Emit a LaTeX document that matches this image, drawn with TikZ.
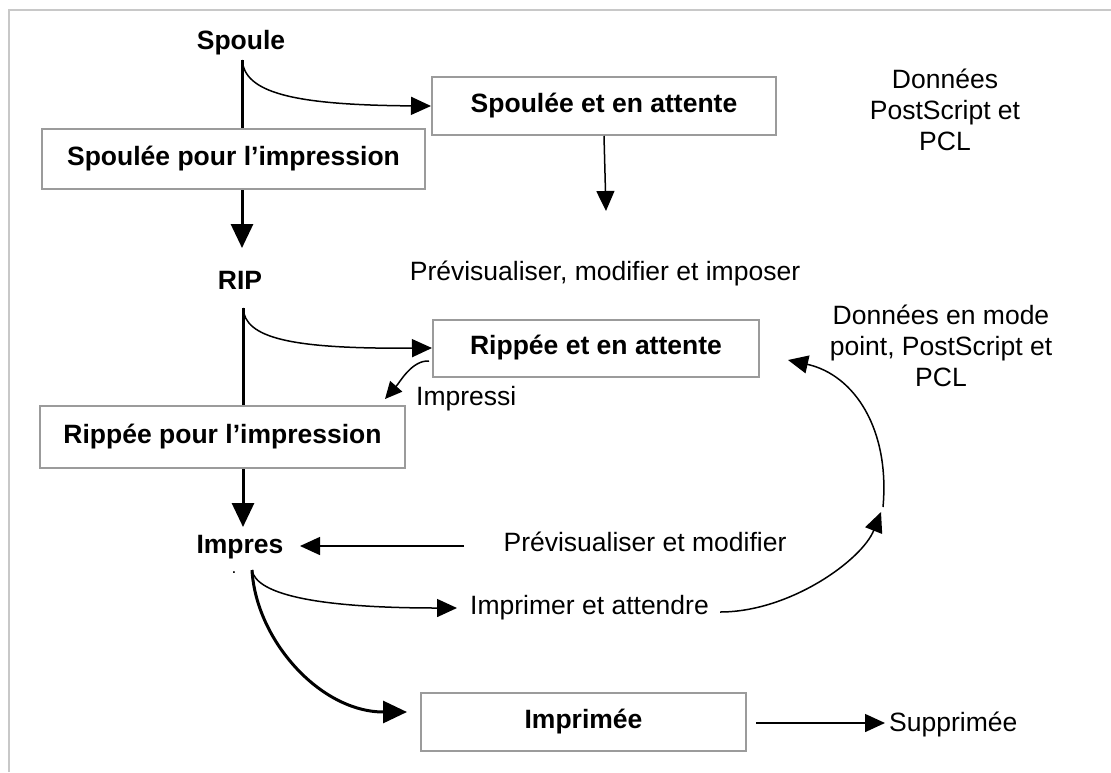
\documentclass[tikz,border=0pt]{standalone}
\usepackage{fontspec}
\setmainfont{Liberation Sans}
\usetikzlibrary{arrows.meta}
\definecolor{boxgray}{RGB}{155,155,155}
\definecolor{framegray}{RGB}{200,200,200}
\tikzset{
  box/.style={draw=boxgray, line width=2pt, inner sep=0pt, font=\bfseries\fontsize{26.5}{31}\selectfont},
  lbl/.style={inner sep=0pt, align=center, font=\fontsize{26.5}{31}\selectfont},
  blbl/.style={inner sep=0pt, font=\bfseries\fontsize{26.5}{31}\selectfont},
  thinarrow/.style={line width=1.5pt, -{Triangle[length=20pt,width=18pt]}},
  smallarrow/.style={line width=1.5pt, -{Triangle[length=17pt,width=16pt]}},
  thickline/.style={line width=3pt},
  thickarrow/.style={line width=3pt, -{Triangle[length=24pt,width=22pt]}},
}
\begin{document}
\begin{tikzpicture}[x=1pt,y=-1pt]
\useasboundingbox (0,0) rectangle (1111,772);
\draw[framegray, line width=1.5pt] (9,772) -- (9,10) -- (1111,10);

% nodes
\node[blbl] (spoule) at (241,43) {Spoule};
\node[box, minimum width=383pt, minimum height=60pt] (b1) at (233.5,159) {Spoulée pour l’impression};
\node[box, minimum width=344pt, minimum height=58pt] (b2) at (604,106) {Spoulée et en attente};
\node[lbl] (prev1) at (605,273) {Prévisualiser, modifier et imposer};
\node[blbl] (rip) at (240,280) {RIP};
\node[box, minimum width=326pt, minimum height=57pt] (b3) at (596,348) {Rippée et en attente};
\node[lbl, anchor=west] (impressi) at (416,399) {Impressi};
\node[box, minimum width=365pt, minimum height=62pt] (b4) at (222.5,437) {Rippée pour l’impression};
\node[blbl] (impres) at (240,547) {Impres};
\node[blbl, font=\bfseries\fontsize{12}{12}\selectfont] (dot) at (234,573) {.};
\node[lbl] (prev2) at (645,542) {Prévisualiser et modifier};
\node[lbl] (imprat) at (589.5,608) {Imprimer et attendre};
\node[box, minimum width=325pt, minimum height=58pt] (b5) at (583.5,722) {Imprimée};
\node[lbl, anchor=west] (supp) at (889,724) {Supprimée};
\node[lbl] (data1) at (945,110) {Données\\PostScript et\\PCL};
\node[lbl] (data2) at (941,346) {Données en mode\\point, PostScript et\\PCL};

% coordinates
\coordinate (sp1) at (242,60);
\coordinate (riptop) at (242,248);
\coordinate (prevtop) at (606,211);
\coordinate (r1) at (243,308);
\coordinate (smstart) at (429,361);
\coordinate (smtip) at (385,399);
\coordinate (imptop) at (243,527);
\coordinate (pv2start) at (464,546);
\coordinate (pv2tip) at (300,546);
\coordinate (i1) at (252,570);
\coordinate (imprtip) at (457,608);
\coordinate (b5tip) at (407,712);
\coordinate (iaend) at (720,612);
\coordinate (arcmid) at (881,512);
\coordinate (arcstart) at (883,507);
\coordinate (arctip) at (788,360);
\coordinate (supstart) at (756,723);
\coordinate (suptip) at (885,723);

% connectors
\draw[thickline] (sp1) -- (sp1 |- b1.north);
\draw[thinarrow] (sp1) .. controls (245,92) and (290,105) .. (b2.west);
\draw[thickarrow] (b1.south -| sp1) -- (riptop);
\draw[thinarrow] (b2.south) -- (prevtop);

\draw[thickline] (r1) -- (r1 |- b4.north);
\draw[thinarrow] (r1) .. controls (245,338) and (290,349) .. (b3.west);
\draw[smallarrow] (smstart) .. controls (412,360) and (400,382) .. (smtip);
\draw[thickarrow] (b4.south -| r1) -- (imptop);

\draw[thinarrow] (pv2start) -- (pv2tip);
\draw[thinarrow] (i1) .. controls (256,595) and (320,608) .. (imprtip);
\draw[thickarrow] (i1) .. controls (256,640) and (320,712) .. (b5tip);
\draw[thinarrow] (iaend) .. controls (790,612) and (862,560) .. (arcmid);
\draw[thinarrow] (arcstart) .. controls (890,430) and (855,375) .. (arctip);
\draw[thinarrow] (supstart) -- (suptip);
\end{tikzpicture}
\end{document}
